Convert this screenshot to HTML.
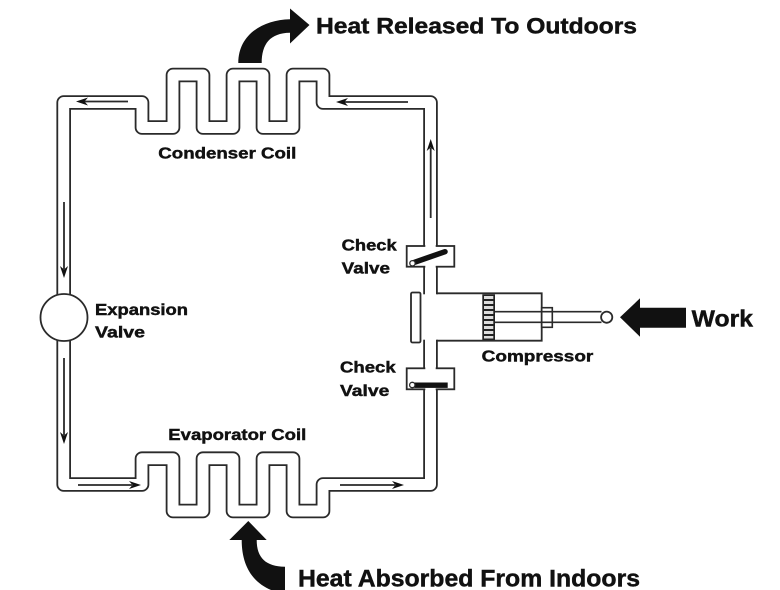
<!DOCTYPE html>
<html>
<head>
<meta charset="utf-8">
<style>
  html, body { margin: 0; padding: 0; background: #ffffff; }
  svg { display: block; }
  text { font-family: "Liberation Sans", Arial, sans-serif; font-weight: bold; fill: #111; stroke: #111; stroke-width: 0.45; }
</style>
</head>
<body>
<svg width="780" height="590" viewBox="0 0 780 590" xmlns="http://www.w3.org/2000/svg">
  <rect x="0" y="0" width="780" height="590" fill="#ffffff"/>

  <!-- Pipe loop (double wall) -->
  <path d="M63.7 102.5 H142 V127.5 H173 V75 H203 V127.5 H233 V75 H263 V127.5 H293 V75 H323 V102.5 H430.5 V484.5 H323 V511 H293 V458.7 H263 V511 H233 V458.7 H203 V511 H173 V458.7 H142 V484.5 H63.7 Z"
        fill="none" stroke="#2a2a2a" stroke-width="14.6" stroke-linejoin="round"/>
  <path d="M63.7 102.5 H142 V127.5 H173 V75 H203 V127.5 H233 V75 H263 V127.5 H293 V75 H323 V102.5 H430.5 V484.5 H323 V511 H293 V458.7 H263 V511 H233 V458.7 H203 V511 H173 V458.7 H142 V484.5 H63.7 Z"
        fill="none" stroke="#ffffff" stroke-width="11" stroke-linejoin="round"/>

  <!-- Check valve boxes -->
  <rect x="406.7" y="246" width="47.6" height="20.7" fill="#fff" stroke="#2a2a2a" stroke-width="1.8"/>
  <rect x="425.3" y="244" width="10.4" height="25" fill="#fff"/>
  <rect x="406.7" y="368.3" width="47.6" height="21" fill="#fff" stroke="#2a2a2a" stroke-width="1.8"/>
  <rect x="425.3" y="366" width="10.4" height="26" fill="#fff"/>

  <!-- Check valve flaps -->
  <line x1="414.5" y1="262.3" x2="445" y2="251.7" stroke="#111" stroke-width="5.5" stroke-linecap="round"/>
  <circle cx="412.5" cy="263.3" r="2.7" fill="#fff" stroke="#2a2a2a" stroke-width="1.3"/>
  <rect x="414.3" y="382.5" width="33.4" height="5.4" fill="#111"/>
  <circle cx="412.3" cy="385" r="2.7" fill="#fff" stroke="#2a2a2a" stroke-width="1.3"/>

  <!-- Compressor -->
  <rect x="422" y="294.3" width="17.5" height="45.4" fill="#fff"/>
  <path d="M436.8 293.3 H541.7 V340.7 H436.8" fill="none" stroke="#2a2a2a" stroke-width="1.8"/>
  <rect x="411" y="292.5" width="9.5" height="50" rx="1.5" fill="#fff" stroke="#2a2a2a" stroke-width="1.8"/>
  <!-- piston -->
  <rect x="482.3" y="294.3" width="12.7" height="45.7" fill="#222"/>
  <rect x="484" y="296" width="9.3" height="3" fill="#ddd"/>
  <rect x="484" y="301" width="9.3" height="3" fill="#ddd"/>
  <rect x="484" y="306" width="9.3" height="3" fill="#ddd"/>
  <rect x="484" y="311" width="9.3" height="3" fill="#ddd"/>
  <rect x="484" y="316" width="9.3" height="3" fill="#ddd"/>
  <rect x="484" y="321" width="9.3" height="3" fill="#ddd"/>
  <rect x="484" y="326" width="9.3" height="3" fill="#ddd"/>
  <rect x="484" y="331" width="9.3" height="3" fill="#ddd"/>
  <rect x="484" y="336" width="9.3" height="2.5" fill="#ddd"/>
  <!-- gland -->
  <rect x="541.7" y="307.7" width="10.6" height="19.6" fill="#fff" stroke="#2a2a2a" stroke-width="1.6"/>
  <!-- rod -->
  <line x1="495" y1="311.7" x2="601.5" y2="311.7" stroke="#2a2a2a" stroke-width="1.7"/>
  <line x1="495" y1="322.3" x2="601.5" y2="322.3" stroke="#2a2a2a" stroke-width="1.7"/>
  <circle cx="606.7" cy="317.2" r="5.6" fill="#fff" stroke="#2a2a2a" stroke-width="1.8"/>

  <!-- Work arrow -->
  <polygon points="620,317.3 640,298.3 640,307.7 686,307.7 686,327.7 640,327.7 640,336.7" fill="#111"/>

  <!-- Expansion valve -->
  <circle cx="64" cy="317.5" r="23.5" fill="#fff" stroke="#2a2a2a" stroke-width="1.8"/>

  <!-- Flow arrows -->
  <g stroke="#2a2a2a" stroke-width="1.8" fill="none">
    <line x1="84" y1="101.5" x2="128" y2="101.5"/>
    <line x1="344" y1="102" x2="408" y2="102"/>
    <line x1="430.7" y1="148" x2="430.7" y2="218"/>
    <line x1="64" y1="202" x2="64" y2="269"/>
    <line x1="64" y1="358" x2="64" y2="435"/>
    <line x1="78" y1="485" x2="132" y2="485"/>
    <line x1="340" y1="485" x2="395" y2="485"/>
  </g>
  <g fill="#111">
    <polygon points="76,101.5 88,97.5 84.5,101.5 88,105.5"/>
    <polygon points="336,102 348,98 344.5,102 348,106"/>
    <polygon points="430.7,139 426.7,151 430.7,147.5 434.7,151"/>
    <polygon points="64,278 60,266 64,269.5 68,266"/>
    <polygon points="64,444 60,432 64,435.5 68,432"/>
    <polygon points="141,485 129,481 132.5,485 129,489"/>
    <polygon points="404,485 392,481 395.5,485 392,489"/>
  </g>

  <!-- Big curved arrows -->
  <path d="M238.3,63 C238.3,35 262,20 290,19.3 L290,8.5 L309.5,25 L290,43.5 L290,32.7 C270,33 261.7,44 261.7,63 Z" fill="#111"/>
  <path d="M248.3,521 L266.7,540 L256.7,540 C256.7,558 266,566.5 285,566.7 L285,590 L271,590 C252,582 241.7,565 241.7,540 L229.3,540 Z" fill="#111"/>

  <!-- Labels -->
  <text x="316" y="33.3" font-size="22" textLength="321" lengthAdjust="spacingAndGlyphs">Heat Released To Outdoors</text>
  <text x="298" y="586.5" font-size="24" textLength="342" lengthAdjust="spacingAndGlyphs">Heat Absorbed From Indoors</text>
  <text x="158.3" y="158.3" font-size="16" textLength="138" lengthAdjust="spacingAndGlyphs">Condenser Coil</text>
  <text x="168.3" y="440" font-size="16" textLength="138" lengthAdjust="spacingAndGlyphs">Evaporator Coil</text>
  <text x="95" y="315" font-size="16" textLength="93" lengthAdjust="spacingAndGlyphs">Expansion</text>
  <text x="95" y="337.3" font-size="16" textLength="50" lengthAdjust="spacingAndGlyphs">Valve</text>
  <text x="341.7" y="250.7" font-size="16" textLength="55" lengthAdjust="spacingAndGlyphs">Check</text>
  <text x="341.7" y="273.3" font-size="16" textLength="48.3" lengthAdjust="spacingAndGlyphs">Valve</text>
  <text x="340" y="372.7" font-size="16" textLength="55.7" lengthAdjust="spacingAndGlyphs">Check</text>
  <text x="340" y="396" font-size="16" textLength="49.3" lengthAdjust="spacingAndGlyphs">Valve</text>
  <text x="481.7" y="361.7" font-size="16" textLength="111.6" lengthAdjust="spacingAndGlyphs">Compressor</text>
  <text x="691.7" y="326.7" font-size="23" textLength="61.3" lengthAdjust="spacingAndGlyphs">Work</text>
</svg>
</body>
</html>
